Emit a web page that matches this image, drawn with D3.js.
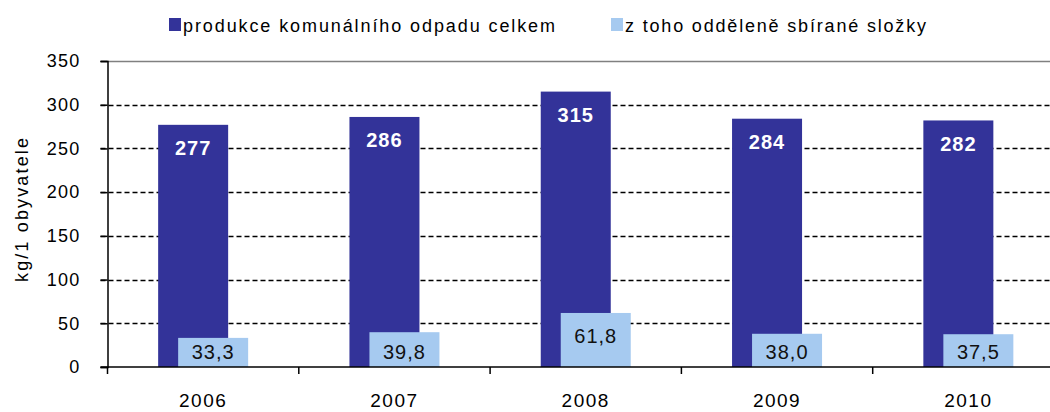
<!DOCTYPE html>
<html>
<head>
<meta charset="utf-8">
<script src="https://cdn.jsdelivr.net/npm/d3@7"></script>
<style>
  body { margin: 0; background: #fff; }
  text { font-family: "Liberation Sans", Arial, sans-serif; }
</style>
</head>
<body>
<div id="chart"></div>
<script>
// data
const years = ['2006', '2007', '2008', '2009', '2010']
const celkem = [277, 286, 315, 284, 282]
const oddelene = [33.3, 39.8, 61.8, 38.0, 37.5]
const yTicks = [0, 50, 100, 150, 200, 250, 300, 350]
const seriesNames = ['produkce komunálního odpadu celkem', 'z toho odděleně sbírané složky']
const colors = ['#333399', '#a6caf0']

const W = 1050, H = 412
const plot = {left: 107.5, right: 1064, top: 61, bottom: 367}

const svg = d3.select('#chart')
  .append('svg')
    .attr('width', W)
    .attr('height', H)

const x = d3.scaleBand()
  .domain(years)
  .range([plot.left, plot.right])
  .paddingInner(0)
  .paddingOuter(0)

const y = d3.scaleLinear()
  .domain([0, 350])
  .range([plot.bottom, plot.top])

// gridlines
svg.append('g')
  .selectAll('line')
  .data(yTicks.filter(d => d > 0))
  .join('line')
    .attr('x1', plot.left - 7)
    .attr('x2', plot.right)
    .attr('y1', d => Math.round(y(d)) + 0.5)
    .attr('y2', d => Math.round(y(d)) + 0.5)
    .attr('stroke', d => d === 350 ? '#808080' : '#000')
    .attr('stroke-width', 1.5)
    .attr('stroke-dasharray', d => d === 350 ? null : '5,3')

const fmt1 = v => v.toFixed(1).replace('.', ',')

// bars: dark one behind, light one overlapping to the right
const barW = 70, shift = 20
const cx = d => x(d) + x.bandwidth() / 2

svg.append('g')
  .selectAll('rect')
  .data(years)
  .join('rect')
    .attr('x', d => cx(d) - 45)
    .attr('y', (d, i) => y(celkem[i]))
    .attr('width', barW)
    .attr('height', (d, i) => y(0) - y(celkem[i]))
    .attr('fill', colors[0])

svg.append('g')
  .selectAll('rect')
  .data(years)
  .join('rect')
    .attr('x', d => cx(d) - 45 + shift)
    .attr('y', (d, i) => y(oddelene[i]))
    .attr('width', barW)
    .attr('height', (d, i) => y(0) - y(oddelene[i]))
    .attr('fill', colors[1])

// value labels
svg.append('g')
  .selectAll('text')
  .data(years)
  .join('text')
    .attr('x', d => cx(d) - 45 + barW / 2)
    .attr('y', (d, i) => y(celkem[i]) + 23)
    .attr('dy', '0.36em')
    .attr('text-anchor', 'middle')
    .attr('fill', '#fff')
    .attr('font-weight', 'bold')
    .attr('font-size', 20)
    .attr('letter-spacing', 1)
    .text((d, i) => celkem[i])

svg.append('g')
  .selectAll('text')
  .data(years)
  .join('text')
    .attr('x', d => cx(d) - 45 + shift + barW / 2)
    .attr('y', (d, i) => Math.min(y(oddelene[i]) + 23, y(0) - 15))
    .attr('dy', '0.36em')
    .attr('text-anchor', 'middle')
    .attr('fill', '#111')
    .attr('font-size', 20)
    .attr('letter-spacing', 1)
    .text((d, i) => fmt1(oddelene[i]))

// y axis
const yAxis = d3.axisLeft(y)
  .tickValues(yTicks)
  .tickSize(7)
  .tickPadding(20)

const gy = svg.append('g')
  .attr('transform', `translate(${plot.left},0)`)
  .call(yAxis)
gy.select('.domain').attr('stroke', '#000').attr('stroke-width', 1.5)
gy.selectAll('.tick line').attr('stroke', '#000').attr('stroke-width', 1.5)
gy.selectAll('.tick text')
  .attr('font-size', 18)
  .attr('letter-spacing', 1.2)
  .attr('fill', '#000')

// x axis with ticks between categories
svg.append('line')
  .attr('x1', plot.left - 7)
  .attr('x2', plot.right)
  .attr('y1', plot.bottom)
  .attr('y2', plot.bottom)
  .attr('stroke', '#000')
  .attr('stroke-width', 1.5)

svg.append('g')
  .selectAll('line')
  .data(years)
  .join('line')
    .attr('x1', d => x(d))
    .attr('x2', d => x(d))
    .attr('y1', plot.bottom)
    .attr('y2', plot.bottom + 7)
    .attr('stroke', '#000')
    .attr('stroke-width', 1.5)

svg.append('g')
  .selectAll('text')
  .data(years)
  .join('text')
    .attr('x', d => cx(d))
    .attr('y', 400)
    .attr('dy', '0.36em')
    .attr('text-anchor', 'middle')
    .attr('font-size', 19)
    .attr('letter-spacing', 1.5)
    .text(d => d)

// y axis title
svg.append('text')
  .attr('transform', 'translate(28,210) rotate(-90)')
  .attr('text-anchor', 'middle')
  .attr('font-size', 18)
  .attr('textLength', 144)
  .attr('lengthAdjust', 'spacing')
  .text('kg/1 obyvatele')

// legend
const legend = [
  {sx: 169, tx: 183, tw: 372},
  {sx: 611, tx: 625, tw: 301}
]
const lg = svg.append('g')
lg.selectAll('rect')
  .data(legend)
  .join('rect')
    .attr('x', d => d.sx)
    .attr('y', 18)
    .attr('width', 12)
    .attr('height', 13)
    .attr('fill', (d, i) => colors[i])
lg.selectAll('text')
  .data(legend)
  .join('text')
    .attr('x', d => d.tx)
    .attr('y', 32)
    .attr('font-size', 18)
    .attr('textLength', d => d.tw)
    .attr('lengthAdjust', 'spacing')
    .text((d, i) => seriesNames[i])
</script>
</body>
</html>
